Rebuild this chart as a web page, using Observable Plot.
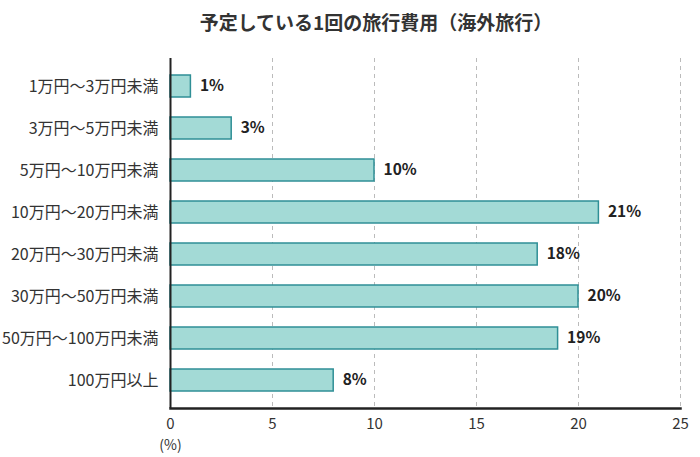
<!DOCTYPE html>
<html><head><meta charset="utf-8">
<script src="https://cdn.jsdelivr.net/npm/d3@7"></script>
<script src="https://cdn.jsdelivr.net/npm/@observablehq/plot@0.6"></script>
<style>
body{margin:0;background:#fff;font-family:"Noto Sans CJK JP","Noto Sans",sans-serif;}
#title{height:45px;line-height:44px;text-align:center;font-size:19px;font-weight:bold;color:#333;padding-left:52px;box-sizing:border-box;}
</style></head>
<body>
<div id="title">予定している1回の旅行費用（海外旅行）</div>
<div id="chart"></div>
<script>
const categories = ["1万円〜3万円未満","3万円〜5万円未満","5万円〜10万円未満","10万円〜20万円未満","20万円〜30万円未満","30万円〜50万円未満","50万円〜100万円未満","100万円以上"];
const values = [1,3,10,21,18,20,19,8];
const xTicks = [0,5,10,15,20,25];
const data = categories.map((c,i)=>({cat:c, v:values[i]}));
const font = '"Noto Sans CJK JP","Noto Sans",sans-serif';
const chart = Plot.plot({
  width:700, height:412,
  marginLeft:170, marginRight:20, marginTop:13, marginBottom:49,
  style:{fontFamily:font, fontSize:"14px", color:"#333", background:"#fff"},
  x:{domain:[0,25], ticks:xTicks, label:null},
  y:{domain:categories, paddingInner:0.48, paddingOuter:0.375, label:null},
  marks:[
    Plot.ruleX(xTicks.slice(1), {stroke:"#bbb", strokeDasharray:"4,4", strokeWidth:1}),
    Plot.barX(data, {x:"v", y:"cat", fill:"#a3dad6", stroke:"#2f8f96", strokeWidth:1.5}),
    Plot.text(data, {x:"v", y:"cat", text:d=>d.v+"%", textAnchor:"start", dx:9, fontWeight:"bold", fontSize:15.5, fill:"#222"}),
    Plot.axisY({tickSize:0, tickPadding:12, fontSize:16, fill:"#333"}),
    Plot.axisX({ticks:xTicks, tickSize:0, tickPadding:10, fontSize:15, fill:"#333"}),
    Plot.ruleX([0], {stroke:"#222", strokeWidth:2}),
    Plot.frame({anchor:"bottom", stroke:"#222", strokeWidth:2.5}),
    Plot.text(["(%)"], {frameAnchor:"bottom-left", dy:41, textAnchor:"middle", text:d=>d, fontSize:14, fill:"#333"})
  ]
});
document.getElementById("chart").appendChild(chart);
</script>
</body></html>
